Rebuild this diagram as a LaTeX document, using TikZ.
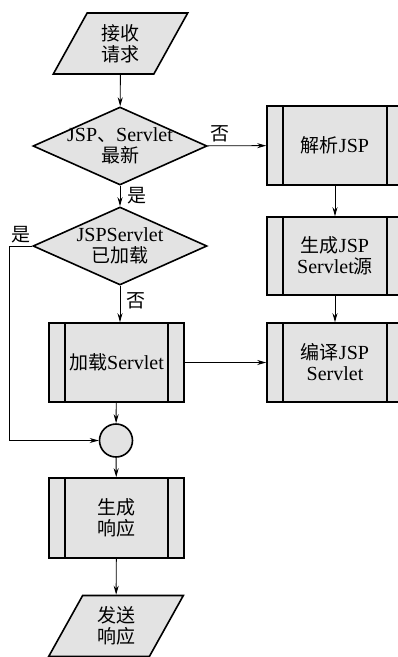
\documentclass[tikz,border=0pt]{standalone}
\usepackage{fontspec}
\setmainfont{Liberation Serif}
\newfontfamily\cjk{Noto Sans CJK SC}[Scale=0.95]
\newcommand{\zh}[1]{{\cjk #1}}
\usetikzlibrary{shapes.geometric,arrows.meta}
\tikzstyle{io} = [draw, fill=black!11, line width=1.6pt, trapezium, trapezium left angle=63.4, trapezium right angle=116.6, trapezium stretches=true, minimum width=135pt, minimum height=61pt, inner sep=0pt, align=center]
\tikzstyle{decide} = [draw, fill=black!11, line width=1.6pt, diamond, aspect=2.23, text width=110pt, inner xsep=0pt, inner ysep=-10pt, minimum width=174pt, minimum height=78pt, align=center]
\tikzstyle{proc} = [draw, fill=black!11, line width=1.6pt, rectangle, minimum width=135pt, minimum height=79pt, align=center, path picture={\draw[line width=1.6pt] ([xshift=16pt]path picture bounding box.north west) -- ([xshift=16pt]path picture bounding box.south west) ([xshift=-16pt]path picture bounding box.north east) -- ([xshift=-16pt]path picture bounding box.south east);}]
\tikzstyle{joint} = [draw, fill=black!11, line width=1.6pt, circle, minimum size=33pt, inner sep=0pt]
\tikzstyle{flow} = [-{Stealth[length=9pt,width=5pt]}, line width=0.9pt]
\tikzstyle{answer} = [inner sep=0pt]

\begin{document}
\begin{tikzpicture}[x=1pt,y=-1pt,font=\fontsize{20}{21}\selectfont]
  \useasboundingbox (0,0) rectangle (398,657);
  \clip (0,0) rectangle (398,657);
  \node[io](recv) at (120.5,43.5){\zh{接收}\\\zh{请求}};
  \node[decide](fresh) at (120,146){JSP\zh{、}Servlet\\\zh{最新}};
  \node[proc,minimum width=136pt](parse) at (335,145.5){\zh{解析}JSP};
  \node[decide](loaded) at (120,246){JSPServlet\\\zh{已加载}};
  \node[proc,minimum width=136pt,minimum height=78pt](gensrc) at (335,256){\zh{生成}JSP\\Servlet\zh{源}};
  \node[proc,minimum width=136pt](compile) at (335,362.5){\zh{编译}JSP\\Servlet};
  \node[proc](load) at (116.5,362.5){\zh{加载}Servlet};
  \node[joint](join) at (116,440.5){};
  \node[proc,minimum height=80pt](resp) at (116.5,518){\zh{生成}\\\zh{响应}};
  \node[io](send) at (116,626){\zh{发送}\\\zh{响应}};
  \draw[flow](recv)--(fresh);
  \draw[flow](fresh)--(parse) node[answer,above=3pt,pos=0.22](no1){\zh{否}};
  \draw[flow](fresh)--(loaded) node[answer,right=7pt,pos=0.5](yes1){\zh{是}};
  \draw[flow](loaded.south)--(loaded.south|-load.north) node[answer,right=6pt,pos=0.4](no2){\zh{否}};
  \draw[flow](loaded.west)--++(-23,0) node[answer,above=3pt,pos=0.5](yes2){\zh{是}} |-(join.west);
  \draw[flow](parse)--(gensrc);
  \draw[flow](gensrc)--(compile);
  \draw[flow](load)--(compile);
  \draw[flow](load)--(join);
  \draw[flow](join)--(resp);
  \draw[flow](resp)--(send);
\end{tikzpicture}
\end{document}
